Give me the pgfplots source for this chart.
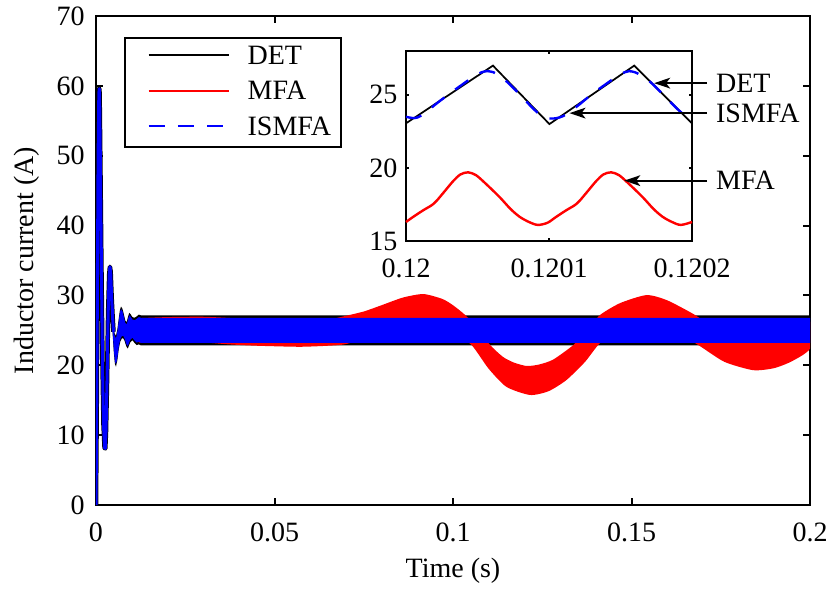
\documentclass[border=0pt]{standalone}
\usepackage{fontspec}
\setmainfont{Liberation Serif}
\usepackage{pgfplots}
\pgfplotsset{compat=1.18}
\usetikzlibrary{arrows.meta}
\begin{document}
\begin{tikzpicture}[font=\fontsize{21}{25}\selectfont]
\useasboundingbox (-72pt,-63.75pt) rectangle (550.5pt,378.75pt);
\begin{axis}[
  at={(0,0)}, anchor=south west,
  scale only axis, width=535.5pt, height=366.75pt,
  xmin=0, xmax=0.2, ymin=0, ymax=70,
  xtick={0,0.05,0.1,0.15,0.2},
  xticklabels={\textrm{0},\textrm{0.05},\textrm{0.1},\textrm{0.15},\textrm{0.2}},
  ytick={0,10,20,30,40,50,60,70},
  yticklabels={\textrm{0},\textrm{10},\textrm{20},\textrm{30},\textrm{40},\textrm{50},\textrm{60},\textrm{70}},
  scaled x ticks=false,
  /pgf/number format/assume math mode=true,
  tick label style={font=\fontsize{21}{25}\selectfont},
  xticklabel style={yshift=-10pt},
  yticklabel style={xshift=-5pt},
  label style={font=\fontsize{21}{25}\selectfont},
  xlabel shift=5pt, ylabel shift=6pt,
  axis line style={line width=1.5pt},
  major tick length=5pt,
  every tick/.style={line width=1.5pt, black},
  xlabel={Time (s)}, ylabel={Inductor current (A)},
  legend cell align=left,
  legend image code/.code={\path (0pt,0pt); \draw[#1] (9.5pt,1.4pt) -- (69.5pt,1.4pt);},
  legend style={at={(0.0392,0.9577)}, anchor=north west, draw=black, line width=1.5pt, fill=white,
    inner xsep=7.5pt, inner ysep=6.1pt, row sep=9.6pt, column sep=13.5pt,
    nodes={inner sep=0pt, text height=14pt, text depth=2.9pt},
    font=\fontsize{21}{25}\selectfont},
]
\addlegendimage{black, line width=1.5pt}
\addlegendentry{DET}
\addlegendimage{red, line width=1.5pt}
\addlegendentry{MFA}
\addlegendimage{blue, line width=1.5pt, dash pattern=on 12pt off 10pt}
\addlegendentry{ISMFA}
% DET band
\addplot[forget plot, fill=black, draw=none] coordinates {
(0.0046,28.5) (0.0049,26) (0.0052,24.6) (0.0056,24.2) (0.0060,25.2) (0.0064,26.8) (0.0067,27.9) (0.0070,28.4) (0.0074,28.1) (0.0078,27.3) (0.0082,26.4) (0.0086,26.2) (0.0090,27.0) (0.0093,27.5) (0.0097,27.3) (0.0102,26.9) (0.0108,26.8) (0.0114,27.0) (0.0120,27.25) (0.0126,27.15) (0.2,27.15)
(0.2,22.85) (0.0126,22.85) (0.0120,23.0) (0.0114,22.9) (0.0108,23.2) (0.0102,23.6) (0.0096,23.3) (0.0089,22.4) (0.0085,22.7) (0.0080,23.5) (0.0076,23.9) (0.0072,23.8) (0.0068,23.4) (0.0064,22.4) (0.0060,20.8) (0.0056,19.8) (0.0053,20.2) (0.0050,21.8) (0.0046,25.0)};
% MFA band
\addplot[forget plot, fill=red, draw=none, smooth, tension=0.4] coordinates {
(0.012,26.75) (0.02,26.9) (0.03,26.95) (0.04,26.7) (0.05,26.4) (0.057,26.25) (0.063,26.3) (0.0693,27.0) (0.075,27.7) (0.08,28.6) (0.086,29.7) (0.0917,30.2) (0.097,29.5) (0.1,28.6) (0.1034,27.2) (0.107,25.3) (0.1104,22.9) (0.114,21.2) (0.117,20.4) (0.1206,19.9) (0.124,20.1) (0.128,20.8) (0.1337,22.9) (0.1375,25.0) (0.1412,27.2) (0.1468,28.9) (0.1542,30.05) (0.16,29.3) (0.1678,27.2) (0.172,25.6) (0.1768,24.0) (0.1841,23.35) (0.19,23.6) (0.195,24.5) (0.2,26.2)
(0.2,22.4) (0.195,20.6) (0.19,19.6) (0.1841,19.3) (0.176,20.5) (0.1687,22.9) (0.16,25.5) (0.1542,26.2) (0.1468,25.1) (0.1412,23.2) (0.137,20.5) (0.1318,17.9) (0.1268,16.3) (0.1216,15.75) (0.115,16.9) (0.11,19.5) (0.1052,22.9) (0.1,24.7) (0.097,25.7) (0.0917,26.4) (0.086,25.9) (0.08,24.8) (0.075,23.8) (0.0697,23.0) (0.065,22.8) (0.057,22.65) (0.045,22.8) (0.037,23.0) (0.03,23.25) (0.012,23.25)};
% ISMFA band
\addplot[forget plot, fill=blue, draw=none] coordinates {
(0.0046,28.15) (0.0049,25.65) (0.0052,24.25) (0.0056,23.85) (0.0060,24.85) (0.0064,26.45) (0.0067,27.55) (0.0070,28.05) (0.0074,27.75) (0.0078,26.95) (0.0082,26.05) (0.0086,25.85) (0.0090,26.65) (0.0093,27.15) (0.0097,26.95) (0.0102,26.55) (0.0108,26.45) (0.0114,26.65) (0.0120,26.9) (0.0126,26.8) (0.2,26.8)
(0.2,23.2) (0.0126,23.2) (0.0120,23.35) (0.0114,23.25) (0.0108,23.55) (0.0102,23.95) (0.0096,23.65) (0.0089,22.75) (0.0085,23.05) (0.0080,23.85) (0.0076,24.25) (0.0072,24.15) (0.0068,23.75) (0.0064,22.75) (0.0060,21.15) (0.0056,20.15) (0.0053,20.55) (0.0050,22.15) (0.0046,25.35)};
% transient start
\addplot[forget plot, black, line width=3.4pt, line join=round] coordinates {
(0,0) (0.0002,14) (0.0004,32) (0.0006,50) (0.0008,58.8) (0.0009,59.6) (0.001,59) (0.0012,50) (0.0015,35) (0.0018,21) (0.0021,11.5) (0.0024,8.2) (0.0026,8.1) (0.0028,10.5) (0.0031,18) (0.0034,27.5) (0.0037,33) (0.0039,34.1) (0.0041,33.4) (0.0044,29.5) (0.0047,26.5) (0.0049,24.8)};
\addplot[forget plot, blue, line width=2.3pt, line join=round] coordinates {
(0,0) (0.0002,14) (0.0004,32) (0.0006,50) (0.0008,58.8) (0.0009,59.6) (0.001,59) (0.0012,50) (0.0015,35) (0.0018,21) (0.0021,11.5) (0.0024,8.2) (0.0026,8.1) (0.0028,10.5) (0.0031,18) (0.0034,27.5) (0.0037,33) (0.0039,34.1) (0.0041,33.4) (0.0044,29.5) (0.0047,26.5) (0.0049,24.8)};
\end{axis}
\begin{axis}[
  at={(232.5pt,198pt)}, anchor=south west,
  scale only axis, width=214.5pt, height=142.5pt,
  xmin=0, xmax=200, ymin=15, ymax=28,
  xtick={0,100,200}, xticklabels={\textrm{0.12},\textrm{0.1201},\textrm{0.1202}},
  ytick={15,20,25}, yticklabels={\textrm{15},\textrm{20},\textrm{25}},
  /pgf/number format/assume math mode=true,
  tick label style={font=\fontsize{21}{25}\selectfont},
  xticklabel style={yshift=-10pt},
  yticklabel style={xshift=-3pt},
  axis background/.style={fill=white},
  axis line style={line width=1.5pt},
  major tick length=2.5pt,
  every tick/.style={line width=1.2pt, black},
  clip=false,
]
\addplot[black, line width=1.3pt] coordinates {(0,23.05) (60.8,27.0) (100.3,23.0) (159.6,27.0) (200,23.05)};
\addplot[red, line width=1.8pt, smooth] coordinates {
(0,16.3) (5,16.65) (12,17.1) (18,17.45) (21.4,17.75) (27,18.4) (33,19.1) (38,19.55) (43.4,19.7) (49,19.5) (56,18.9) (65.5,18.0) (73,17.2) (79.4,16.66) (86,16.3) (92.2,16.1) (99,16.25) (105,16.65) (112,17.1) (118,17.45) (121.4,17.75) (127,18.4) (133,19.1) (138,19.55) (143.4,19.7) (149,19.5) (156,18.9) (165.5,18.0) (173,17.2) (179.4,16.66) (186,16.3) (192.2,16.1) (200,16.3)};
\addplot[blue, line width=1.8pt, smooth, dash pattern=on 12pt off 10pt] coordinates {
(0,23.5) (4,23.42) (8,23.45) (14,23.8) (20,24.3) (30,25.05) (40,25.75) (48,26.3) (53,26.55) (57,26.62) (61,26.55) (64,26.4) (70,25.95) (80,24.98) (88,24.15) (93,23.7) (97,23.45) (101,23.38) (105,23.4) (110,23.55) (116,23.95) (122,24.4) (130,25.05) (140,25.75) (148,26.3) (153,26.55) (156,26.62) (160,26.55) (164,26.35) (170,25.95) (176,25.4) (182,24.8) (188,24.2) (193,23.75) (197,23.5) (200,23.42)};
\draw[line width=1.5pt, -{Stealth[length=12pt,width=8pt,inset=3pt]}] (axis cs:210.5,25.8) -- (axis cs:173.5,25.8);
\draw[line width=1.5pt, -{Stealth[length=12pt,width=8pt,inset=3pt]}] (axis cs:210.5,23.75) -- (axis cs:114.3,23.75);
\draw[line width=1.5pt, -{Stealth[length=12pt,width=8pt,inset=3pt]}] (axis cs:210.5,19.13) -- (axis cs:152.6,19.13);
\node[anchor=west, inner sep=0pt] at (axis cs:216.7,25.8) {DET};
\node[anchor=west, inner sep=0pt] at (axis cs:216.7,23.75) {ISMFA};
\node[anchor=west, inner sep=0pt] at (axis cs:216.7,19.13) {MFA};
\end{axis}
\end{tikzpicture}
\end{document}
